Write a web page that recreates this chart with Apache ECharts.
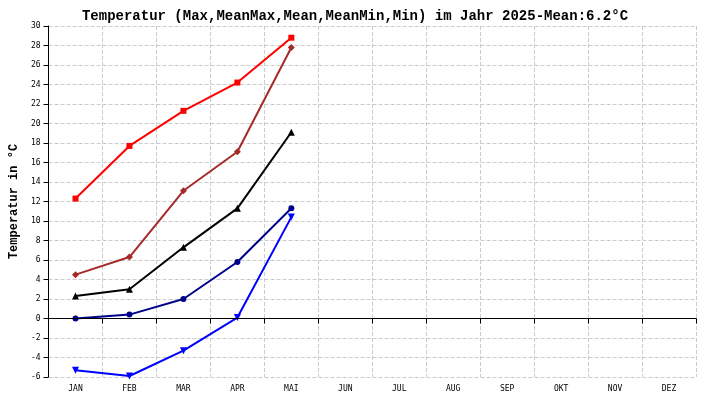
<!DOCTYPE html>
<html><head><meta charset="utf-8">
<script src="https://cdn.jsdelivr.net/npm/echarts@6/dist/echarts.min.js"></script>
<style>body{margin:0}#main{width:710px;height:400px}</style>
</head><body><div id="main"></div>
<script>
var months = ['JAN','FEB','MAR','APR','MAI','JUN','JUL','AUG','SEP','OKT','NOV','DEZ'];
var tMax = [12.3, 17.7, 21.3, 24.2, 28.8];
var tMeanMax = [4.5, 6.3, 13.1, 17.1, 27.8];
var tMean = [2.3, 3.0, 7.3, 11.3, 19.1];
var tMeanMin = [0.0, 0.4, 2.0, 5.8, 11.3];
var tMin = [-5.3, -5.9, -3.3, 0.1, 10.4];

var myChart = echarts.init(document.getElementById('main'));
function line(name, data, color, symbol, size) {
    return {
        name: name, type: 'line', data: data, symbol: symbol, symbolSize: size,
        lineStyle: {color: color, width: 2}, itemStyle: {color: color}, animation: false
    };
}
var option = {
    backgroundColor: '#fff',
    textStyle: {fontFamily: 'DejaVu Sans Mono'},
    title: {
        text: 'Temperatur (Max,MeanMax,Mean,MeanMin,Min) im Jahr 2025-Mean:6.2°C',
        left: 'center', top: 4,
        textStyle: {fontFamily: 'Liberation Mono', fontSize: 14, fontWeight: 'bold', color: '#000'}
    },
    grid: {left: 36, right: 14, top: 26, bottom: 23},
    xAxis: {
        type: 'category', data: months, boundaryGap: true,
        axisLine: {lineStyle: {color: '#000'}},
        axisTick: {show: true, lineStyle: {color: '#000'}},
        axisLabel: {fontSize: 8, color: '#000', fontFamily: 'DejaVu Sans Mono'},
        splitLine: {show: true, lineStyle: {color: '#ccc', type: 'dashed'}}
    },
    yAxis: {
        type: 'value', min: -6, max: 30, interval: 2,
        name: 'Temperatur in °C', nameLocation: 'middle', nameGap: 26,
        nameTextStyle: {fontSize: 12, fontWeight: 'bold', fontFamily: 'Liberation Mono', color: '#000'},
        axisLine: {show: true, lineStyle: {color: '#000'}},
        axisTick: {show: true, lineStyle: {color: '#000'}},
        axisLabel: {fontSize: 8, color: '#000', fontFamily: 'DejaVu Sans Mono'},
        splitLine: {show: true, lineStyle: {color: '#ccc', type: 'dashed'}}
    },
    series: [
        line('Max', tMax, '#ff0000', 'rect', 6),
        line('MeanMax', tMeanMax, '#a52a2a', 'diamond', 7),
        line('Mean', tMean, '#000000', 'triangle', 7),
        line('MeanMin', tMeanMin, '#00008b', 'circle', 6),
        Object.assign(line('Min', tMin, '#0000ff', 'triangle', 7), {
            symbolRotate: 180,
            markLine: {
                silent: true, symbol: 'none', label: {show: false},
                lineStyle: {color: '#000', type: 'solid', width: 1},
                data: [{yAxis: 0}]
            }
        })
    ]
};
myChart.setOption(option);
</script></body></html>
